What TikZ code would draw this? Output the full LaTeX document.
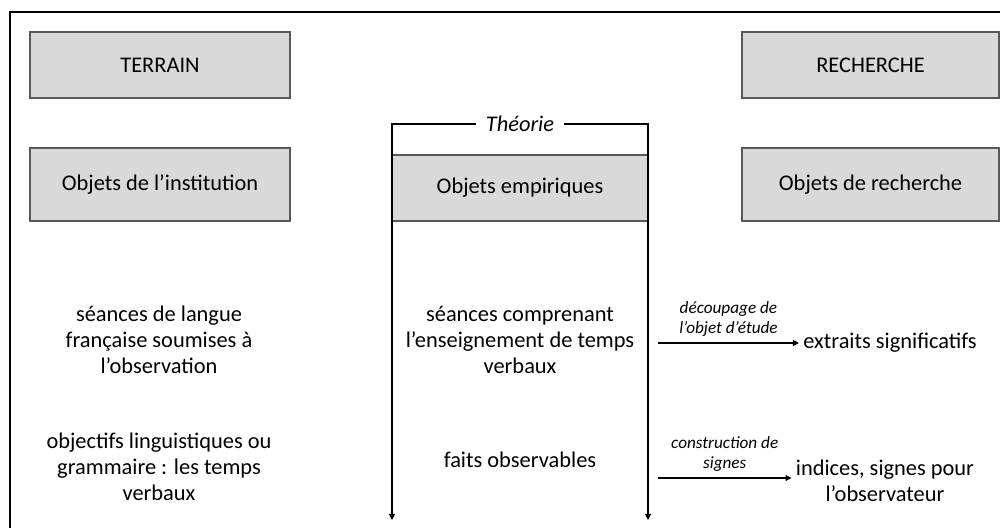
\documentclass[tikz,border=0pt]{standalone}
\usepackage{fontspec}
\setmainfont{Carlito}
\usepackage{tikz}
\usetikzlibrary{arrows.meta}
\definecolor{boxgray}{HTML}{D9D9D9}
\colorlet{boxline}{black!65}
\tikzstyle{lbl}=[font=\fontsize{11.2}{13}\selectfont,align=center,inner sep=2pt]
\tikzstyle{objbox}=[lbl,draw=boxline,fill=boxgray,line width=.6pt]
\tikzstyle{arrlbl}=[font=\fontsize{8.6}{10}\selectfont\itshape,align=center,inner sep=3pt]
\tikzstyle{rwb}=[line width=.6pt,>={Triangle[length=3pt,width=3pt]},->]

\begin{document}
\begin{tikzpicture}[x=.5pt,y=-.5pt]
	\useasboundingbox (0,0) rectangle (1000,528);
	\draw[line width=1pt] (10,528) -- (10,12) -- (1000,12);
	\node[objbox,minimum width=130pt,minimum height=33pt] (ter) at (160,65) {TERRAIN};
	\node[objbox,minimum width=128.5pt,minimum height=33pt] (rech) at (870.5,65) {RECHERCHE};
	\node[objbox,minimum width=130pt,minimum height=36.5pt] (inst) at (160,184.5) {Objets de l’institution};
	\node[objbox,minimum width=128pt,minimum height=33pt] (emp) at (520,188) {Objets empiriques};
	\node[objbox,minimum width=128.5pt,minimum height=36.5pt] (orech) at (870.5,184.5) {Objets de recherche};
	\node[lbl,font=\fontsize{11.2}{13}\selectfont\itshape,inner sep=5pt] (th) at (520,124) {Théorie};
	\coordinate (el) at (392,520);
	\coordinate (er) at (648,520);
	\draw[rwb] (th.west) -| (el);
	\draw[rwb] (th.east) -| (er);
	\node[lbl] (s1) at (159,340) {séances de langue\\française soumises à\\l’observation};
	\node[lbl] (s2) at (520,340) {séances comprenant\\l’enseignement de temps\\verbaux};
	\node[lbl] (ext) at (890,343) {extraits significatifs};
	\node[lbl] (o1) at (159,467) {objectifs linguistiques ou\\grammaire : les temps\\verbaux};
	\node[lbl] (o2) at (520,460) {faits observables};
	\node[lbl] (ind) at (885,481) {indices, signes pour\\l’observateur};
	\coordinate (a1) at (658,343);
	\coordinate (a2) at (658,478);
	\draw[rwb] (a1) -- node[arrlbl,above]{découpage de\\l’objet d’étude} (ext.west);
	\draw[rwb] (a2) -- node[arrlbl,above]{construction de\\signes} (a2 -| ind.west);
\end{tikzpicture}
\end{document}
